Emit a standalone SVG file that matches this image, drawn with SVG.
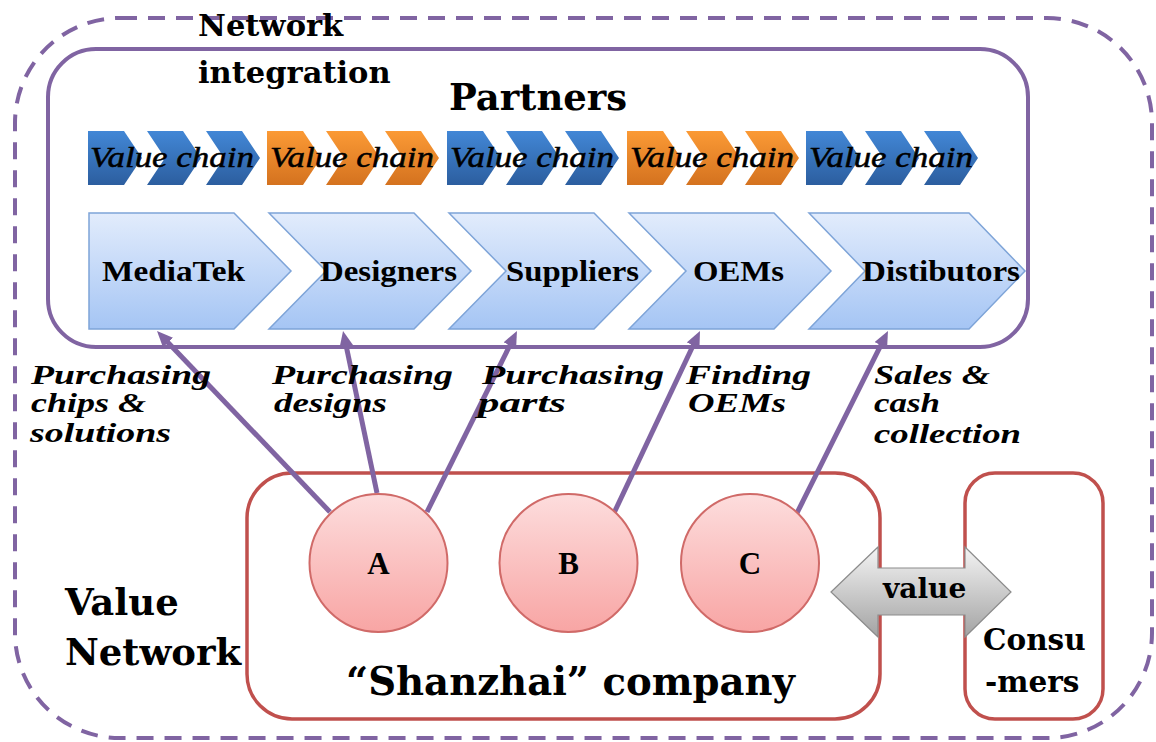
<svg xmlns="http://www.w3.org/2000/svg" width="1156" height="742" viewBox="0 0 1156 742">
<defs>
<linearGradient id="gBlue" x1="0" y1="0" x2="0" y2="1"><stop offset="0" stop-color="#4287D6"/><stop offset="1" stop-color="#2C5E9F"/></linearGradient>
<linearGradient id="gOrange" x1="0" y1="0" x2="0" y2="1"><stop offset="0" stop-color="#FB9A35"/><stop offset="1" stop-color="#D4721F"/></linearGradient>
<linearGradient id="gLight" x1="0" y1="0" x2="0" y2="1"><stop offset="0" stop-color="#E2ECFC"/><stop offset="1" stop-color="#A5C5F4"/></linearGradient>
<linearGradient id="gPink" x1="0" y1="0" x2="0" y2="1"><stop offset="0" stop-color="#FDDDDD"/><stop offset="1" stop-color="#F8A5A4"/></linearGradient>
<linearGradient id="gGray" x1="0" y1="0" x2="0" y2="1"><stop offset="0" stop-color="#F4F4F4"/><stop offset="1" stop-color="#A3A3A3"/></linearGradient>
<marker id="arr" viewBox="0 0 16 14" refX="6" refY="7" markerWidth="16" markerHeight="14" markerUnits="userSpaceOnUse" orient="auto"><path d="M0,0 L16,7 L0,14 z" fill="#8064A2"/></marker>
</defs>
<style>
.bold{font-family:"DejaVu Serif","Liberation Serif",serif;font-weight:bold;fill:#000}
.vc{font-family:"Liberation Serif","Times New Roman",serif;font-style:italic;font-size:30px;fill:#000;stroke:#000;stroke-width:0.5}
.pt{font-family:"Liberation Serif","Times New Roman",serif;font-weight:bold;font-size:29px;fill:#000}
.lab{font-family:"Liberation Serif","Times New Roman",serif;font-style:italic;font-weight:bold;font-size:28px;fill:#000}
.circ{fill:url(#gPink);stroke:#D06A68;stroke-width:2}
.big{fill:url(#gLight);stroke:#7EA4D8;stroke-width:1.5}
.blue{fill:url(#gBlue)}
.orange{fill:url(#gOrange)}
.conn{stroke:#8064A2;stroke-width:5;fill:none;marker-end:url(#arr)}
.redbox{fill:none;stroke:#C0504D;stroke-width:3.5}
.letter{font-family:"Liberation Serif","Times New Roman",serif;font-weight:bold;font-size:31px;fill:#000}
</style>
<rect width="1156" height="742" fill="#FFFFFF"/>

<g id="value-network">
<rect x="15" y="18" width="1137" height="720" rx="105" fill="none" stroke="#8064A2" stroke-width="4" stroke-dasharray="17 11"/>
<text class="bold" x="65" y="615" font-size="37">Value</text>
<text class="bold" x="65" y="665" font-size="37">Network</text>
</g>

<g id="partners">
<rect x="48" y="49" width="980" height="298" rx="48" fill="none" stroke="#8064A2" stroke-width="4"/>
<text class="bold" x="449" y="110" font-size="37">Partners</text>
</g>

<g id="network-integration">
<text class="bold" x="198" y="36" font-size="30.5">Network</text>
<text class="bold" x="198" y="83" font-size="30.5">integration</text>
</g>

<g id="value-chains">
<g id="vc1" class="blue">
<path d="M88,131 L124,131 L142,158 L124,185 L88,185 Z"/>
<path d="M147,131 L183,131 L201,158 L183,185 L147,185 L165,158 Z"/>
<path d="M206,131 L242,131 L260,158 L242,185 L206,185 L224,158 Z"/>
<text class="vc" x="90" y="167" textLength="164" lengthAdjust="spacingAndGlyphs">Value chain</text>
</g>
<g id="vc2" class="orange">
<path d="M267,131 L303,131 L321,158 L303,185 L267,185 Z"/>
<path d="M326,131 L362,131 L380,158 L362,185 L326,185 L344,158 Z"/>
<path d="M385,131 L421,131 L439,158 L421,185 L385,185 L403,158 Z"/>
<text class="vc" x="270" y="167" textLength="164" lengthAdjust="spacingAndGlyphs">Value chain</text>
</g>
<g id="vc3" class="blue">
<path d="M447,131 L483,131 L501,158 L483,185 L447,185 Z"/>
<path d="M506,131 L542,131 L560,158 L542,185 L506,185 L524,158 Z"/>
<path d="M565,131 L601,131 L619,158 L601,185 L565,185 L583,158 Z"/>
<text class="vc" x="450" y="167" textLength="164" lengthAdjust="spacingAndGlyphs">Value chain</text>
</g>
<g id="vc4" class="orange">
<path d="M627,131 L663,131 L681,158 L663,185 L627,185 Z"/>
<path d="M686,131 L722,131 L740,158 L722,185 L686,185 L704,158 Z"/>
<path d="M745,131 L781,131 L799,158 L781,185 L745,185 L763,158 Z"/>
<text class="vc" x="630" y="167" textLength="164" lengthAdjust="spacingAndGlyphs">Value chain</text>
</g>
<g id="vc5" class="blue">
<path d="M806,131 L842,131 L860,158 L842,185 L806,185 Z"/>
<path d="M865,131 L901,131 L919,158 L901,185 L865,185 L883,158 Z"/>
<path d="M924,131 L960,131 L978,158 L960,185 L924,185 L942,158 Z"/>
<text class="vc" x="809" y="167" textLength="164" lengthAdjust="spacingAndGlyphs">Value chain</text>
</g>
</g>

<g id="mediatek">
<path class="big" d="M89,213 L234,213 L291,271 L234,329 L89,329 Z"/>
<text class="pt" x="102" y="281" textLength="143" lengthAdjust="spacingAndGlyphs">MediaTek</text>
</g>
<g id="designers">
<path class="big" d="M269,213 L414,213 L471,271 L414,329 L269,329 L326,271 Z"/>
<text class="pt" x="320" y="281" textLength="137" lengthAdjust="spacingAndGlyphs">Designers</text>
</g>
<g id="suppliers">
<path class="big" d="M449,213 L594,213 L651,271 L594,329 L449,329 L506,271 Z"/>
<text class="pt" x="506" y="281" textLength="133" lengthAdjust="spacingAndGlyphs">Suppliers</text>
</g>
<g id="oems">
<path class="big" d="M629,213 L774,213 L831,271 L774,329 L629,329 L686,271 Z"/>
<text class="pt" x="693" y="281" textLength="91" lengthAdjust="spacingAndGlyphs">OEMs</text>
</g>
<g id="distibutors">
<path class="big" d="M809,213 L969,213 L1025,271 L969,329 L809,329 L865,271 Z"/>
<text class="pt" x="862" y="281" textLength="158" lengthAdjust="spacingAndGlyphs">Distibutors</text>
</g>

<g id="shanzhai-company">
<rect class="redbox" x="247" y="473" width="633" height="246" rx="45"/>
<text class="bold" x="346" y="695" font-size="39" textLength="449" lengthAdjust="spacingAndGlyphs">“Shanzhai” company</text>
</g>

<g id="consumers">
<rect class="redbox" x="965" y="473" width="138" height="246" rx="30"/>
<text class="bold" x="983" y="650" font-size="29.5">Consu</text>
<text class="bold" x="985" y="692" font-size="29.5">-mers</text>
</g>

<g id="connectors">
<line class="conn" x1="330" y1="512" x2="163.9" y2="338.2"/>
<line class="conn" x1="377" y1="493" x2="345.1" y2="340.8"/>
<line class="conn" x1="427" y1="512" x2="512.5" y2="340"/>
<line class="conn" x1="614" y1="513" x2="695.7" y2="340"/>
<line class="conn" x1="797" y1="513" x2="883.5" y2="339.9"/>
</g>

<g id="connector-labels">
<text class="lab" x="31" y="384" textLength="180" lengthAdjust="spacingAndGlyphs">Purchasing</text>
<text class="lab" x="31" y="412" textLength="115" lengthAdjust="spacingAndGlyphs">chips &amp;</text>
<text class="lab" x="30" y="442" textLength="141" lengthAdjust="spacingAndGlyphs">solutions</text>
<text class="lab" x="272" y="384" textLength="181" lengthAdjust="spacingAndGlyphs">Purchasing</text>
<text class="lab" x="274" y="412" textLength="113" lengthAdjust="spacingAndGlyphs">designs</text>
<text class="lab" x="482" y="384" textLength="182" lengthAdjust="spacingAndGlyphs">Purchasing</text>
<text class="lab" x="478" y="412" textLength="88" lengthAdjust="spacingAndGlyphs">parts</text>
<text class="lab" x="686" y="384" textLength="125" lengthAdjust="spacingAndGlyphs">Finding</text>
<text class="lab" x="688" y="412" textLength="98" lengthAdjust="spacingAndGlyphs">OEMs</text>
<text class="lab" x="874" y="384" textLength="116" lengthAdjust="spacingAndGlyphs">Sales &amp;</text>
<text class="lab" x="874" y="412" textLength="66" lengthAdjust="spacingAndGlyphs">cash</text>
<text class="lab" x="874" y="443" textLength="147" lengthAdjust="spacingAndGlyphs">collection</text>
</g>

<g id="node-a">
<circle class="circ" cx="378.5" cy="563" r="69"/>
<text class="letter" x="378.5" y="574" text-anchor="middle">A</text>
</g>
<g id="node-b">
<circle class="circ" cx="568.5" cy="563" r="69"/>
<text class="letter" x="568.5" y="574" text-anchor="middle">B</text>
</g>
<g id="node-c">
<circle class="circ" cx="750" cy="563" r="69"/>
<text class="letter" x="750" y="574" text-anchor="middle">C</text>
</g>

<g id="value-arrow">
<path d="M831,592 L878,547 L878,568 L965,568 L965,547 L1011,592 L965,637 L965,615 L878,615 L878,637 Z" fill="url(#gGray)" stroke="#8C8C8C" stroke-width="1.2"/>
<text class="bold" x="883" y="598" font-size="28">value</text>
</g>
</svg>
